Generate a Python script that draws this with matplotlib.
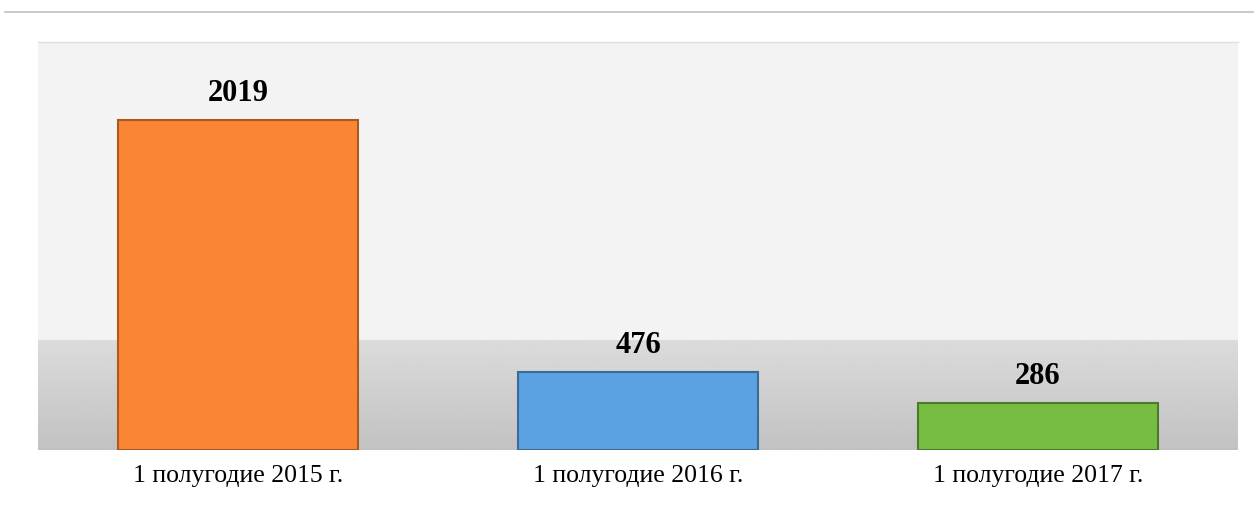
import matplotlib
matplotlib.use("Agg")
import matplotlib.pyplot as plt
import numpy as np

categories = ["1 полугодие 2015 г.", "1 полугодие 2016 г.", "1 полугодие 2017 г."]
values = [2019, 476, 286]
colors = ["#fa8532", "#5aa2e2", "#77bd42"]
edge_colors = ["#a85a22", "#3a6c98", "#4c7a2a"]

plt.rcParams['font.family'] = ['Liberation Serif', 'DejaVu Serif']

fig = plt.figure(figsize=(12.54, 5.18), dpi=100)
ax = fig.add_axes([38/1254, 1 - 450/518, 1200/1254, 408/518])

# background gradient (light top, grey band at bottom)
rows = np.linspace(0, 1, 408)  # 0 top -> 1 bottom
g = np.full(408, 0.95)
band = rows > (340 - 42) / 408
t = (rows[band] - rows[band].min()) / (1 - rows[band].min())
g[band] = 0.86 - 0.10 * t
grad = np.repeat(g[:, None], 2, axis=1)
ax.imshow(grad, cmap="gray", vmin=0, vmax=1, aspect="auto",
          extent=[-0.5, 2.5, 0, 2500], origin="upper", zorder=0)

x = np.arange(len(categories))
ax.bar(x, values, width=0.6, color=colors, edgecolor=edge_colors,
       linewidth=1.5, zorder=2)
for xi, v in zip(x, values):
    ax.text(xi, v + 75, str(v), ha="center", va="bottom", fontsize=22,
            fontweight="bold", color="black", zorder=3)

ax.set_xlim(-0.5, 2.5)
ax.set_ylim(0, 2500)
ax.set_xticks(x)
ax.set_xticklabels(categories, fontsize=18.5)
ax.tick_params(axis="x", length=0, pad=11)
ax.set_yticks([])
for s in ax.spines.values():
    s.set_visible(False)

# top separator line
fig.add_artist(plt.Line2D([5/1254, 1.0], [1 - 12/518, 1 - 12/518],
                          color="#c0c0c0", linewidth=1.2))
fig.add_artist(plt.Line2D([38/1254, 1238/1254], [1 - 42/518, 1 - 42/518],
                          color="#e0e0e0", linewidth=1.0))

fig.savefig("out.png", dpi=100)
